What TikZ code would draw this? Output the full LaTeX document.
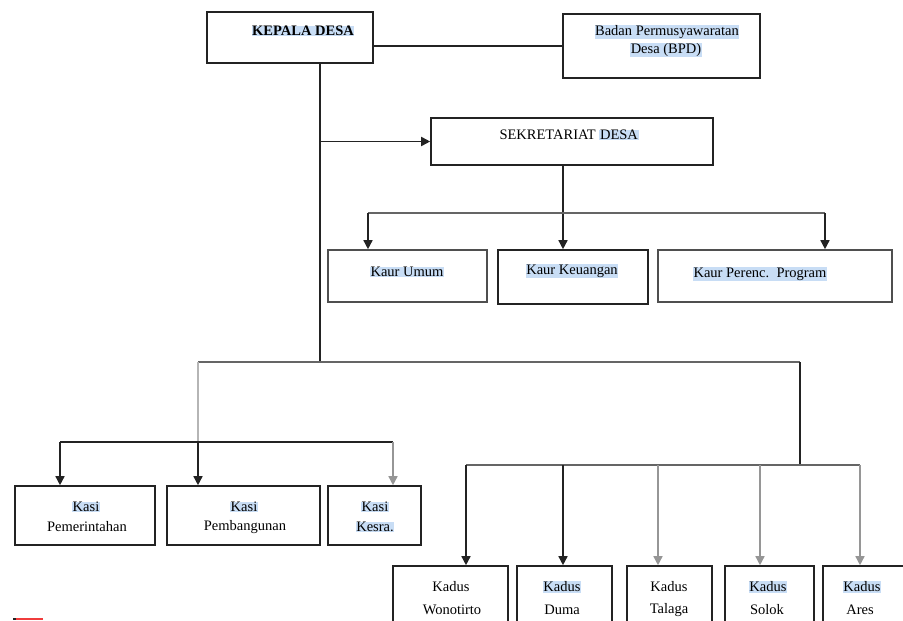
\documentclass[tikz,border=0pt]{standalone}
\usepackage{fontspec}
\setmainfont{Liberation Serif}
\usetikzlibrary{arrows.meta}
\definecolor{hlc}{RGB}{200,221,245}
\definecolor{ln}{RGB}{35,35,35}
\definecolor{lg}{RGB}{150,150,150}
\definecolor{redmark}{RGB}{240,60,60}
\begin{document}
\begin{tikzpicture}[x=1pt,y=-1pt,
  box/.style={draw=ln, line width=1.6pt, rectangle, inner sep=0pt},
  txt/.style={inner sep=0.6pt, font=\fontsize{14.5}{16}\selectfont},
  hl/.style={txt, fill=hlc},
  conn/.style={draw=ln, line width=1.5pt},
  arr/.style={conn, -{Triangle[length=9pt,width=9pt]}},
]
\useasboundingbox (0,0) rectangle (903,621);
\begin{scope}
\clip (0,0) rectangle (903,621);
% boxes
\node[box, minimum width=166pt, minimum height=51pt] (kd) at (290,37.5) {};
\node[box, minimum width=197pt, minimum height=64pt] (bpd) at (661.5,46) {};
\node[box, minimum width=282pt, minimum height=47pt] (sek) at (572,141.5) {};
\node[box, draw=ln!80, minimum width=159pt, minimum height=52pt] (ku) at (407.5,276) {};
\node[box, minimum width=150pt, minimum height=54pt] (kk) at (573,277) {};
\node[box, draw=ln!80, minimum width=234pt, minimum height=52pt] (kp) at (775,276) {};
\node[box, minimum width=140pt, minimum height=59pt] (k1) at (85,515.5) {};
\node[box, minimum width=153pt, minimum height=59pt] (k2) at (243.5,515.5) {};
\node[box, minimum width=93pt, minimum height=59pt] (k3) at (374.5,515.5) {};
\node[box, minimum width=115pt, minimum height=74pt] (d1) at (450.5,603) {};
\node[box, minimum width=95pt, minimum height=74pt] (d2) at (564.5,603) {};
\node[box, minimum width=85pt, minimum height=74pt] (d3) at (669.5,603) {};
\node[box, minimum width=89pt, minimum height=74pt] (d4) at (769.5,603) {};
\node[box, minimum width=92pt, minimum height=74pt] (d5) at (869,603) {};
% texts
\node[hl] (kdt) at (303,31) {\bfseries KEPALA DESA};
\node[hl] (bpt1) at (667,32) {Badan Permusyawaratan};
\node[hl] (bpt2) at (666,50) {Desa (BPD)};
\node[txt] (sekt) at (569,135) {SEKRETARIAT {\setlength\fboxsep{0.6pt}\colorbox{hlc}{DESA}}};
\node[hl] (kut) at (407,272) {Kaur Umum};
\node[hl] (kkt) at (572,271) {Kaur Keuangan};
\node[hl] (kpt) at (760,274) {Kaur Perenc.\ \ Program};
\node[hl] (k1a) at (86,507) {Kasi};
\node[txt] (k1b) at (87,527) {Pemerintahan};
\node[hl] (k2a) at (244,507) {Kasi};
\node[txt] (k2b) at (245,527) {Pembangunan};
\node[hl] (k3a) at (375,507) {Kasi};
\node[hl] (k3b) at (375,527) {Kesra.};
\node[txt] (d1a) at (451,587) {Kadus};
\node[txt] (d1b) at (452,610) {Wonotirto};
\node[hl] (d2a) at (562,587) {Kadus};
\node[txt] (d2b) at (562,610) {Duma};
\node[txt] (d3a) at (669,587) {Kadus};
\node[txt] (d3b) at (669,610) {Talaga};
\node[hl] (d4a) at (768,587) {Kadus};
\node[txt] (d4b) at (767,610) {Solok};
\node[hl] (d5a) at (862,587) {Kadus};
\node[txt] (d5b) at (860,610) {Ares};
% coordinates
\coordinate (tr) at (320,362);
\coordinate (sx) at (563,0);
\coordinate (kl) at (368,213);
\coordinate (kr) at (825,213);
\coordinate (hl1) at (198,362);
\coordinate (hr1) at (800,362);
\coordinate (ka) at (60,442);
\coordinate (kb) at (198,442);
\coordinate (kc) at (393,442);
\coordinate (dm) at (800,465);
\coordinate (da) at (466,465);
\coordinate (db) at (563,465);
\coordinate (dc) at (658,465);
\coordinate (dd) at (760,465);
\coordinate (de) at (860,465);
% connectors
\draw[conn] (kd.east |- bpd.west) -- (bpd.west);
\draw[conn] (kd.south -| tr) -- (tr);
\draw[arr, line width=1.8pt] (sek.west -| tr) -- (sek.west);
\draw[arr] (sek.south -| sx) -- (kk.north -| sx);
\draw[conn, draw=ln!70] (kl) -- (kr);
\draw[arr] (kl) -- (ku.north -| kl);
\draw[arr] (kr) -- (kp.north -| kr);
\draw[conn, draw=ln!70] (hl1) -- (hr1);
\draw[conn, draw=lg!70] (hl1) -- (kb);
\draw[conn] (ka) -- (kc);
\draw[arr] (ka) -- (k1.north -| ka);
\draw[arr] (kb) -- (k2.north -| kb);
\draw[arr, draw=lg] (kc) -- (k3.north -| kc);
\draw[conn] (hr1) -- (dm);
\draw[conn, draw=ln!70] (da) -- (de);
\draw[arr] (da) -- (d1.north -| da);
\draw[arr] (db) -- (d2.north -| db);
\draw[arr, draw=lg] (dc) -- (d3.north -| dc);
\draw[arr, draw=lg] (dd) -- (d4.north -| dd);
\draw[arr, draw=lg] (de) -- (d5.north -| de);
% red underline
\coordinate (r0) at (13,618.5);
\coordinate (r1) at (16,618.5);
\coordinate (r2) at (43,618.5);
\draw[line width=2pt, ln] (r0) -- (r1);
\draw[line width=2pt, redmark] (r1) -- (r2);
\end{scope}
\end{tikzpicture}
\end{document}
